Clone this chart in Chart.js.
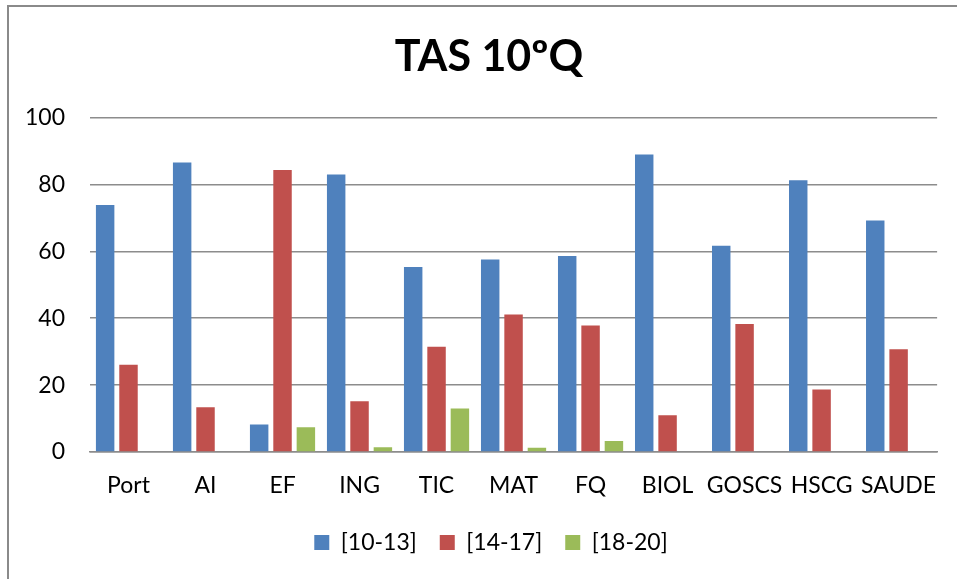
<!DOCTYPE html>
<html>
<head>
<meta charset="utf-8">
<script src="https://cdn.jsdelivr.net/npm/chart.js@4/dist/chart.umd.min.js"></script>
<style>
  html, body { margin: 0; padding: 0; background: #fff; overflow: hidden; }
  #wrap { position: relative; width: 957px; height: 579px; }
  #frame { position: absolute; left: 7px; top: 5px; width: 2000px; height: 2000px;
           border-left: 2px solid #8a8a8a; border-top: 2px solid #8a8a8a; pointer-events: none; }
  canvas { position: absolute; left: 0; top: 0; }
</style>
</head>
<body>
<div id="wrap">
  <canvas id="chart" width="957" height="579"></canvas>
  <div id="frame"></div>
</div>
<script>
// values
const categories = ['Port', 'AI', 'EF', 'ING', 'TIC', 'MAT', 'FQ', 'BIOL', 'GOSCS', 'HSCG', 'SAUDE'];
const low = [73.9, 86.6, 8.2, 83.0, 55.3, 57.6, 58.6, 89.0, 61.7, 81.3, 69.2];
const mid = [26.1, 13.4, 84.3, 15.2, 31.5, 41.1, 37.8, 11.0, 38.3, 18.7, 30.7];
const high = [0, 0, 7.4, 1.4, 13.0, 1.3, 3.3, 0, 0, 0, 0];
const seriesNames = ['[10-13]', '[14-17]', '[18-20]'];
const yTicks = [0, 20, 40, 60, 80, 100];

const font = 'Lato';

// the original centres title and legend a bit right of the canvas middle
const nudge = {
    id: 'nudge',
    afterLayout: function(chart) {
        chart.titleBlock.left += 10;
        chart.titleBlock.right += 10;
        chart.legend.left += 12;
        chart.legend.right += 12;
    }
};

(function drawChart() {
    let ctx = document.getElementById('chart').getContext('2d');
    let makeSet = function(label, data, color) {
        return {
            label: label,
            data: data,
            backgroundColor: color,
            borderWidth: 0,
            categoryPercentage: 0.91,
            barPercentage: 0.79
        };
    };

    new Chart(ctx, {
        type: 'bar',
        data: {
            labels: categories,
            datasets: [
                makeSet(seriesNames[0], low, '#4F81BD'),
                makeSet(seriesNames[1], mid, '#C0504D'),
                makeSet(seriesNames[2], high, '#9BBB59')
            ]
        },
        plugins: [nudge],
        options: {
            responsive: false,
            animation: false,
            layout: { padding: { left: 20, right: 19, top: 0, bottom: 15 } },
            plugins: {
                title: {
                    display: true,
                    text: 'TAS 10ºQ',
                    color: '#000',
                    font: { family: font, size: 43, weight: 'bold', lineHeight: 1.2 },
                    padding: { top: 31, bottom: 35 }
                },
                legend: {
                    position: 'bottom',
                    labels: {
                        color: '#000',
                        font: { family: font, size: 23 },
                        boxWidth: 15,
                        boxHeight: 15,
                        padding: 23
                    }
                },
                tooltip: { enabled: false }
            },
            scales: {
                x: {
                    grid: { display: false, drawTicks: false },
                    border: { display: true, color: '#8c8c8c', width: 1.5 },
                    ticks: { color: '#000', font: { family: font, size: 23 }, padding: 20, maxRotation: 0, autoSkip: false },
                    afterFit: function(s) { s.height = 56; }
                },
                y: {
                    min: 0,
                    max: 100,
                    afterBuildTicks: function(s) { s.ticks = yTicks.map(v => ({ value: v })); },
                    grid: { color: '#8c8c8c', lineWidth: 1.5, drawTicks: false },
                    border: { display: false },
                    ticks: { color: '#000', font: { family: font, size: 23 }, padding: 25 },
                    afterFit: function(s) { s.width = 70; }
                }
            }
        }
    });
})();
</script>
</body>
</html>
